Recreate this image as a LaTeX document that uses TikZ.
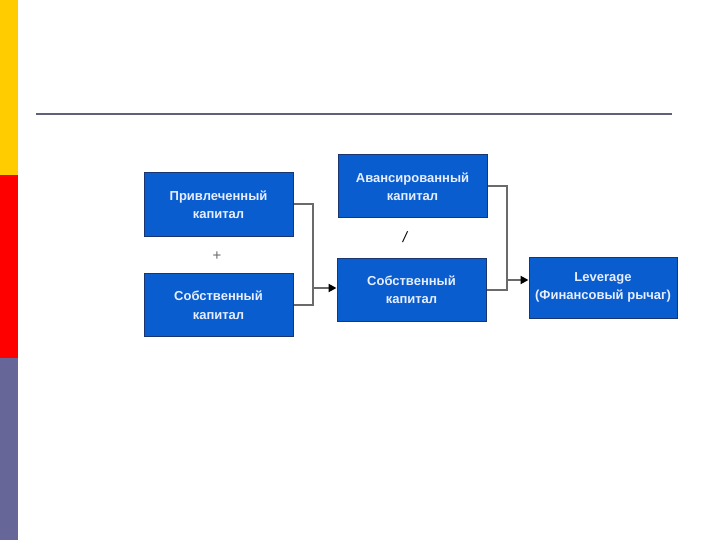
\documentclass[tikz,border=0pt]{standalone}
\usepackage{fontspec}
\setmainfont{Liberation Sans}
\usetikzlibrary{arrows.meta,calc}
\definecolor{boxblue}{HTML}{0A5DCF}
\definecolor{boxedge}{HTML}{1A3570}
\definecolor{boxtext}{HTML}{E6EEFF}
\definecolor{conn}{HTML}{6A6A6A}
\definecolor{ruleline}{HTML}{606078}
\definecolor{sideyellow}{HTML}{FFCC00}
\definecolor{sidered}{HTML}{FF0000}
\definecolor{sidepurple}{HTML}{666699}
\begin{document}
\begin{tikzpicture}[x=1pt,y=-1pt,
  bluebox/.style={draw=boxedge,line width=1pt,fill=boxblue,text=boxtext,
    minimum width=149pt,minimum height=63pt,align=center,inner sep=0pt,
    font=\fontsize{13}{18.5}\selectfont\bfseries},
  connline/.style={draw=conn,line width=2pt},
  connarrow/.style={draw=conn,line width=2pt,-{Triangle[length=8pt,width=8pt,color=black]}}]
\useasboundingbox (0,0) rectangle (720,540);
\fill[white] (0,0) rectangle (720,540);
% sidebar
\fill[sideyellow] (0,0) rectangle (18,175);
\fill[sidered] (0,175) rectangle (18,358);
\fill[sidepurple] (0,358) rectangle (18,540);
% rule
\draw[ruleline,line width=2.2pt] (36,114) -- (672,114);
% boxes
\node[bluebox] (b1) at (218.5,204.5) {Привлеченный\\капитал};
\node[bluebox] (b2) at (218.5,305) {Собственный\\капитал};
\node[bluebox] (b3) at (412.5,186.5) {Авансированный\\капитал};
\node[bluebox] (b4) at (411.5,289.5) {Собственный\\капитал};
\node[bluebox,minimum width=148pt,minimum height=61pt] (b5) at (603,287.5) {Leverage\\(Финансовый рычаг)};
% operators
\node[text=conn,font=\fontsize{15}{15}\selectfont] (plus) at (217,256) {+};
\node[font=\fontsize{15}{15}\selectfont\itshape] (slash) at (405,237) {/};
% connectors
\coordinate (j1) at (313,288);
\coordinate (j2) at (507,280);
\draw[connline] (b1.east) -| (j1 |- b2.east) -- (b2.east);
\draw[connarrow] (j1) -- (b4.west |- j1);
\draw[connline] (b3.east) -| (j2 |- b4.east) -- (b4.east);
\draw[connarrow] (j2) -- (b5.west |- j2);
\end{tikzpicture}
\end{document}
